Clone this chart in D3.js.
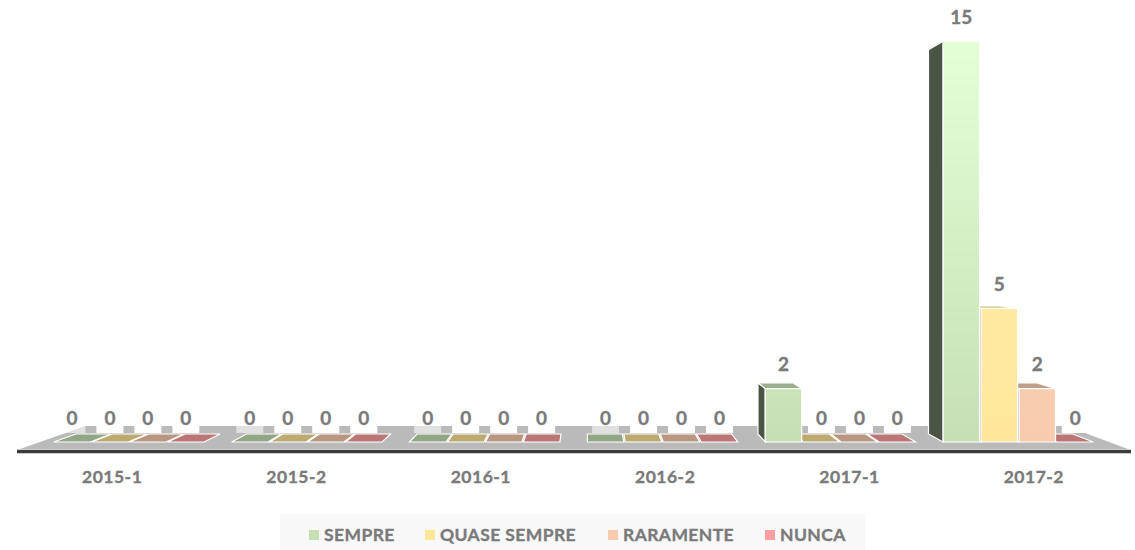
<!DOCTYPE html>
<html>
<head>
<meta charset="utf-8">
<script src="https://cdn.jsdelivr.net/npm/d3@7"></script>
<style>
  html, body { margin: 0; padding: 0; background: #ffffff; }
  svg { display: block; }
  text { font-family: Lato, "Open Sans", sans-serif; font-weight: 700; fill: #7a7a7a;
         stroke: #7a7a7a; stroke-width: 0.35px; }
</style>
</head>
<body>
<svg id="chart" width="1135" height="550"></svg>
<script>
// Semesters and answer categories
const categories = ["2015-1", "2015-2", "2016-1", "2016-2", "2017-1", "2017-2"];
const seriesNames = ["SEMPRE", "QUASE SEMPRE", "RARAMENTE", "NUNCA"];

// Answer counts per semester
const sempre      = [0, 0, 0, 0, 2, 15];
const quaseSempre = [0, 0, 0, 0, 0, 5];
const raramente   = [0, 0, 0, 0, 0, 2];
const nunca       = [0, 0, 0, 0, 0, 0];

const seriesValues = [sempre, quaseSempre, raramente, nunca];
const seriesColors = ["#c6e0b4", "#ffe699", "#f8cbad", "#ff9f9f"];
const seriesLight  = ["#e4ffd6", "#fff0b4", "#fcd6bd", "#ffb0b0"];

const svg = d3.select("#chart");

// Front-plane scales
const x0 = d3.scaleBand().domain(categories).range([20, 1126])
  .paddingInner(0.146).paddingOuter(0.073);
const x1 = d3.scaleBand().domain(seriesNames).range([0, x0.bandwidth()]);
const y = d3.scaleLinear().domain([0, 16]).range([449, 6]);

// Simple perspective: points recede toward a vanishing point as depth t grows
const VP = [590, 249];
const proj = (X, Y, t) => [X + (VP[0] - X) * t, Y + (VP[1] - Y) * t];
const tFront = 0.035, tBack = 0.075, tFloor = 0.115;
const pts = arr => arr.map(p => p.join(",")).join(" ");

// Gradients for the bar fronts
const defs = svg.append("defs");
seriesNames.forEach((s, i) => {
  const g = defs.append("linearGradient")
    .attr("id", "grad" + i).attr("gradientUnits", "userSpaceOnUse")
    .attr("x1", 0).attr("x2", 0)
    .attr("y1", proj(0, y(15), tFront)[1]).attr("y2", proj(0, y(0), tFront)[1]);
  g.append("stop").attr("offset", 0).attr("stop-color", seriesLight[i]);
  g.append("stop").attr("offset", 1).attr("stop-color", seriesColors[i]);
});

// Floor
const [xl, xr] = x0.range();
const floorY = y(0);
svg.append("polygon")
  .attr("points", pts([
    proj(xl, floorY, 0), proj(xr + 2, floorY, 0),
    proj(xr + 2, floorY, tFloor), proj(xl, floorY, tFloor)
  ]))
  .attr("fill", "#bababa");

// Base line under the floor
svg.append("line")
  .attr("x1", xl - 3).attr("x2", xr + 5)
  .attr("y1", floorY + 2.5).attr("y2", floorY + 2.5)
  .attr("stroke", "#3b3b3b").attr("stroke-width", 3.5);

// Build bar records
const bars = [];
categories.forEach((c, ci) => {
  seriesNames.forEach((s, si) => {
    const v = seriesValues[si][ci];
    const X0 = x0(c) + x1(s) + 0.8;
    const X1 = X0 + x1.bandwidth() - 1.6;
    bars.push({ c, s, si, v, X0, X1, Yb: y(0), Yt: y(v) });
  });
});

// Farthest from the vanishing point first, so nearer faces cover hidden ones
bars.sort((a, b) => Math.abs(b.X0 + b.X1 - 2 * VP[0]) - Math.abs(a.X0 + a.X1 - 2 * VP[0]));

const barLayer = svg.append("g");
bars.forEach(b => {
  const g = barLayer.append("g");
  const base = d3.color(seriesColors[b.si]);
  const topCol = d3.interpolateRgb(base, "#000")(b.v === 0 ? 0.26 : 0.22);
  const sideCol = d3.interpolateRgb(base, "#000")(0.62);
  const ftl = proj(b.X0, b.Yt, tFront), ftr = proj(b.X1, b.Yt, tFront);
  const fbl = proj(b.X0, b.Yb, tFront), fbr = proj(b.X1, b.Yb, tFront);
  const btl = proj(b.X0, b.Yt, tBack), btr = proj(b.X1, b.Yt, tBack);
  const bbl = proj(b.X0, b.Yb, tBack), bbr = proj(b.X1, b.Yb, tBack);
  const cx = (b.X0 + b.X1) / 2;
  if (b.v > 0) {
    const side = cx > VP[0] ? [ftl, btl, bbl, fbl] : [ftr, btr, bbr, fbr];
    g.append("polygon").attr("points", pts(side))
      .attr("fill", sideCol).attr("stroke", "#fff").attr("stroke-width", 1.2);
  }
  if (b.Yt > VP[1]) {
    g.append("polygon").attr("points", pts([ftl, ftr, btr, btl]))
      .attr("fill", topCol).attr("stroke", "#fff").attr("stroke-width", 1.2);
  }
  if (b.v > 0) {
    g.append("polygon").attr("points", pts([ftl, ftr, fbr, fbl]))
      .attr("fill", `url(#grad${b.si})`).attr("stroke", "#fff").attr("stroke-width", 1.2);
  }
});

// Value labels with their boxes
const labelLayer = svg.append("g");
categories.forEach((c, ci) => {
  seriesNames.forEach((s, si) => {
    const v = seriesValues[si][ci];
    const cx = x0(c) + x1(s) + x1.bandwidth() / 2;
    const [px, py] = proj(cx, y(v), tFront);
    const ly = py - 24;
    labelLayer.append("rect")
      .attr("x", px - 13.5).attr("y", ly - 13).attr("width", 27).attr("height", 28)
      .attr("fill", "#ffffff").attr("fill-opacity", si === 0 ? 0.55 : 1);
    labelLayer.append("text")
      .attr("x", px).attr("y", ly).attr("dy", "0.36em")
      .attr("text-anchor", "middle").attr("font-size", 19)
      .text(v);
  });
});

// Category axis labels
svg.append("g").selectAll("text").data(categories).join("text")
  .attr("x", d => x0(d) + x0.bandwidth() / 2)
  .attr("y", 477).attr("dy", "0.36em")
  .attr("text-anchor", "middle").attr("font-size", 17.5)
  .attr("letter-spacing", 0.5)
  .text(d => d);

// Legend
const legend = svg.append("g");
legend.append("rect").attr("x", 280).attr("y", 514).attr("width", 585).attr("height", 36)
  .attr("fill", "#f8f8f8");
const legendX = [309, 425, 608, 765];
seriesNames.forEach((s, i) => {
  legend.append("rect").attr("x", legendX[i]).attr("y", 530).attr("width", 10).attr("height", 10)
    .attr("fill", seriesColors[i]);
  legend.append("text").attr("x", legendX[i] + 15).attr("y", 535).attr("dy", "0.36em")
    .attr("font-size", 17.5).attr("letter-spacing", 0.4)
    .text(s);
});
</script>
</body>
</html>
